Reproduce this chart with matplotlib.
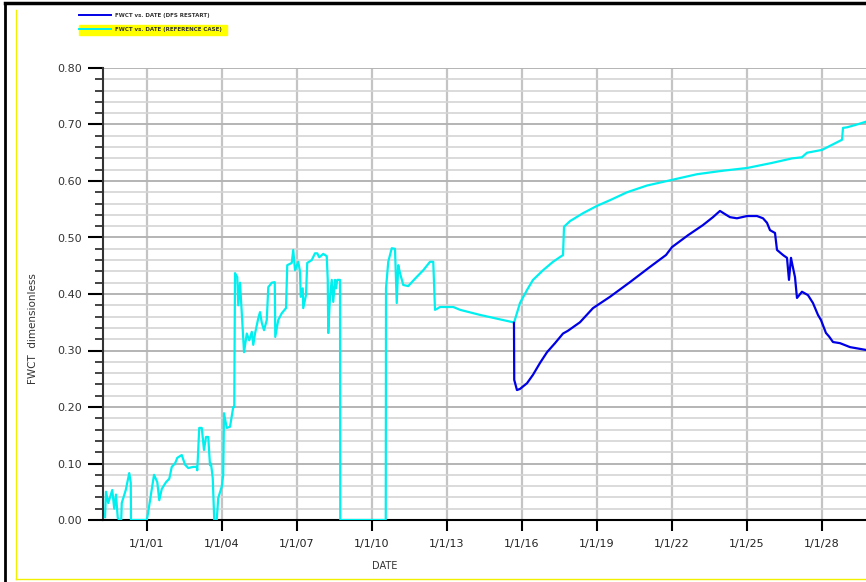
import matplotlib
matplotlib.use("Agg")
import matplotlib.pyplot as plt
from matplotlib.ticker import MultipleLocator
from matplotlib.lines import Line2D
from datetime import datetime, timedelta

# decimal years
ref_years = [1999.32, 1999.36, 1999.45, 1999.61, 1999.69, 1999.76, 1999.83, 1999.89, 1999.97,
             1999.99, 2000.15, 2000.29, 2000.35, 2000.36, 2000.99, 2001.05, 2001.28,
             2001.41, 2001.49, 2001.59, 2001.76, 2001.89, 2001.99, 2002.12, 2002.21,
             2002.39, 2002.52, 2002.65, 2002.85, 2002.99, 2003.01, 2003.09, 2003.19,
             2003.28, 2003.36, 2003.45, 2003.52, 2003.56, 2003.63, 2003.69, 2003.79,
             2003.85, 2003.99, 2004.05, 2004.08, 2004.19, 2004.32, 2004.45, 2004.49,
             2004.52, 2004.61, 2004.65, 2004.72, 2004.79, 2004.88, 2004.99, 2005.09,
             2005.19, 2005.25, 2005.32, 2005.45, 2005.52, 2005.59, 2005.68, 2005.79,
             2005.85, 2005.99, 2006.11, 2006.13, 2006.25, 2006.39, 2006.56, 2006.61,
             2006.79, 2006.85, 2006.92, 2007.05, 2007.12, 2007.15, 2007.23, 2007.25,
             2007.36, 2007.41, 2007.59, 2007.72, 2007.81, 2007.89, 2008.05, 2008.19,
             2008.23, 2008.25, 2008.32, 2008.39, 2008.45, 2008.52, 2008.56, 2008.61,
             2008.72, 2008.73, 2010.55, 2010.56, 2010.65, 2010.79, 2010.92, 2010.99,
             2011.05, 2011.12, 2011.25, 2011.45, 2011.72, 2012.05, 2012.32, 2012.45,
             2012.52, 2012.61, 2012.72, 2013.25, 2013.52, 2014.32, 2015.64, 2015.68,
             2015.92, 2016.20, 2016.44, 2016.84, 2017.24, 2017.64, 2017.68, 2017.92,
             2018.44, 2019.00, 2019.52, 2020.20, 2021.00, 2022.00, 2023.00, 2024.00,
             2025.00, 2026.00, 2026.80, 2027.20, 2027.40, 2028.00, 2028.40, 2028.80,
             2028.84, 2029.00, 2029.40, 2029.76]
ref_fwct = [0.005, 0.050, 0.030, 0.053, 0.020, 0.045, 0.004, 0.000, 0.000,
            0.030, 0.053, 0.083, 0.066, 0.000, 0.000, 0.015, 0.080,
            0.067, 0.035, 0.055, 0.067, 0.073, 0.094, 0.100, 0.110,
            0.115, 0.098, 0.092, 0.094, 0.094, 0.088, 0.163, 0.163,
            0.124, 0.147, 0.147, 0.097, 0.100, 0.074, 0.000, 0.000,
            0.039, 0.059, 0.080, 0.189, 0.163, 0.165, 0.200, 0.200,
            0.437, 0.430, 0.380, 0.420, 0.366, 0.297, 0.330, 0.318,
            0.333, 0.310, 0.330, 0.357, 0.368, 0.349, 0.336, 0.354,
            0.412, 0.420, 0.421, 0.324, 0.354, 0.366, 0.375, 0.451,
            0.455, 0.478, 0.442, 0.457, 0.440, 0.395, 0.410, 0.375,
            0.398, 0.455, 0.460, 0.472, 0.472, 0.465, 0.471, 0.467,
            0.425, 0.331, 0.395, 0.425, 0.386, 0.425, 0.410, 0.425,
            0.425, 0.000, 0.000, 0.410, 0.457, 0.481, 0.480, 0.384,
            0.451, 0.437, 0.416, 0.414, 0.427, 0.442, 0.457, 0.457,
            0.372, 0.374, 0.377, 0.377, 0.372, 0.363, 0.350, 0.349,
            0.384, 0.407, 0.425, 0.442, 0.457, 0.469, 0.519, 0.529,
            0.543, 0.556, 0.566, 0.580, 0.592, 0.602, 0.612, 0.618,
            0.623, 0.632, 0.640, 0.642, 0.650, 0.655, 0.664, 0.673,
            0.694, 0.695, 0.700, 0.705]

dfs_years = [2015.68, 2015.69, 2015.80, 2015.92, 2016.20, 2016.44, 2016.72, 2017.00,
             2017.32, 2017.64, 2017.84, 2018.32, 2018.84, 2019.52, 2020.32, 2021.12,
             2021.76, 2022.00, 2022.64, 2023.24, 2023.64, 2023.92, 2024.10, 2024.32,
             2024.60, 2025.00, 2025.40, 2025.64, 2025.80, 2025.92, 2026.12, 2026.20,
             2026.44, 2026.60, 2026.68, 2026.76, 2026.80, 2026.92, 2027.00, 2027.20,
             2027.44, 2027.64, 2027.84, 2027.96, 2028.16, 2028.28, 2028.44, 2028.72,
             2029.12, 2029.76]
dfs_fwct = [0.349, 0.248, 0.230, 0.232, 0.242, 0.257, 0.278, 0.297,
            0.313, 0.330, 0.335, 0.350, 0.375, 0.395, 0.421, 0.448,
            0.469, 0.483, 0.504, 0.522, 0.536, 0.547, 0.542, 0.536,
            0.534, 0.538, 0.538, 0.534, 0.526, 0.513, 0.508, 0.478,
            0.469, 0.464, 0.425, 0.464, 0.455, 0.430, 0.393, 0.404,
            0.398, 0.384, 0.363, 0.354, 0.331, 0.325, 0.315, 0.313,
            0.306, 0.301]

tick_years = [2001, 2004, 2007, 2010, 2013, 2016, 2019, 2022, 2025, 2028]
legend_labels = ["FWCT vs. DATE (DFS RESTART)", "FWCT vs. DATE (REFERENCE CASE)"]


def to_date(y):
    start = datetime(int(y), 1, 1)
    days = (datetime(int(y) + 1, 1, 1) - start).days
    return start + timedelta(days=(y - int(y)) * days)


ref_dates = [to_date(y) for y in ref_years]
dfs_dates = [to_date(y) for y in dfs_years]

fig = plt.figure(figsize=(8.66, 5.82), dpi=100)
ax = fig.add_axes([103 / 866, 1 - 520 / 582, 763 / 866, 452 / 582])

ax.plot(ref_dates, ref_fwct, color="#00f0f0", lw=1.6, zorder=3)
ax.plot(dfs_dates, dfs_fwct, color="#0000e6", lw=1.6, zorder=4)

ax.set_xlim(to_date(1999.24), to_date(2029.76))
ax.set_ylim(0, 0.8)

ax.set_xticks([datetime(y, 1, 1) for y in tick_years])
ax.set_xticklabels(["1/1/%02d" % (y % 100) for y in tick_years])
ax.yaxis.set_major_locator(MultipleLocator(0.1))
ax.yaxis.set_minor_locator(MultipleLocator(0.02))
ax.yaxis.set_major_formatter(plt.FuncFormatter(lambda v, p: "%.2f" % v))

ax.grid(axis="x", which="major", color="#c4c4c4", lw=1.6)
ax.grid(axis="y", which="major", color="#b4b4b4", lw=1.4)
ax.grid(axis="y", which="minor", color="#d4d4d4", lw=1.2)
ax.set_axisbelow(True)

for s in ["top", "right"]:
    ax.spines[s].set_visible(False)
ax.spines["left"].set_color("#333333")
ax.spines["left"].set_linewidth(1.5)
ax.spines["bottom"].set_color("black")
ax.spines["bottom"].set_linewidth(1.5)

ax.tick_params(axis="y", which="major", length=11, width=1.5, color="black",
               labelsize=8, labelcolor="#333333", pad=4)
ax.tick_params(axis="y", which="minor", length=6, width=1.2, color="#222222")
ax.tick_params(axis="x", which="major", length=8, width=1.5, color="black",
               labelsize=8, labelcolor="#222222", pad=6)

fig.text(33 / 866, 1 - 329 / 582, "FWCT  dimensionless", rotation=90,
         ha="center", va="center", fontsize=7.5, color="#333333")
fig.text(385 / 866, 1 - 566 / 582, "DATE", ha="center", va="center",
         fontsize=7, color="#333333")

# legend at top left
fig.patches.append(plt.Rectangle((79 / 866, 1 - 35 / 582), 148 / 866, 10 / 582,
                                 transform=fig.transFigure, color="#ffff00", zorder=1))
fig.lines.append(Line2D([79 / 866, 111 / 866], [1 - 15 / 582] * 2,
                        transform=fig.transFigure, color="#0000e6", lw=1.4))
fig.lines.append(Line2D([79 / 866, 111 / 866], [1 - 29 / 582] * 2,
                        transform=fig.transFigure, color="#00f0f0", lw=1.4))
fig.text(115 / 866, 1 - 16 / 582, legend_labels[0], fontsize=4, fontweight="bold",
         va="center", ha="left", color="#333333")
fig.text(115 / 866, 1 - 30 / 582, legend_labels[1], fontsize=4, fontweight="bold",
         va="center", ha="left", color="#333333")

# frame lines round the page
fig.lines.append(Line2D([5 / 866, 5 / 866], [0, 1 - 3 / 582], transform=fig.transFigure,
                        color="black", lw=2))
fig.lines.append(Line2D([5 / 866, 1], [1 - 3 / 582] * 2, transform=fig.transFigure,
                        color="black", lw=2.5))
fig.lines.append(Line2D([16 / 866, 16 / 866], [1 - 579 / 582, 1 - 10 / 582],
                        transform=fig.transFigure, color="#f0f000", lw=1))
fig.lines.append(Line2D([16 / 866, 1], [1 - 579 / 582] * 2,
                        transform=fig.transFigure, color="#f0f000", lw=1))

fig.savefig("out.png", dpi=100)
